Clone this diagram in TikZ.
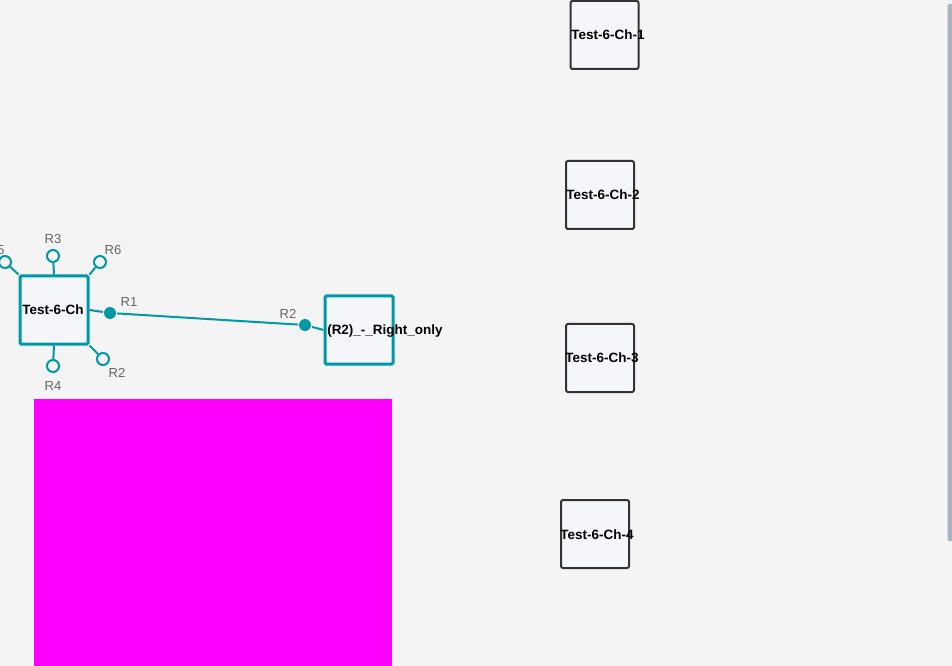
\documentclass[tikz,border=0pt]{standalone}
\usepackage{fontspec}
\setmainfont{Liberation Sans}
\usepackage{xcolor}
\usetikzlibrary{positioning}

\definecolor{bgcol}{HTML}{F4F4F4}
\definecolor{boxfill}{HTML}{F5F6F9}
\definecolor{tealcol}{HTML}{0097A7}
\definecolor{darkcol}{HTML}{333333}
\definecolor{labcol}{HTML}{666666}
\definecolor{barcol}{HTML}{A9B4BF}
\definecolor{blockcol}{HTML}{FF00FF}

\tikzset{
  chbox/.style={draw=darkcol, fill=boxfill, line width=1.5pt, rounded corners=1.5pt, minimum size=51pt, inner sep=0pt},
  selbox/.style={draw=tealcol, fill=boxfill, line width=2.25pt, rounded corners=1pt, minimum size=51pt, inner sep=0pt},
  boxtext/.style={font=\bfseries\fontsize{10.1}{12}\selectfont, inner sep=0pt},
  portopen/.style={circle, draw=tealcol, fill=bgcol, line width=1.5pt, minimum size=9pt, inner sep=0pt},
  portdot/.style={circle, draw=white, fill=tealcol, line width=0.8pt, minimum size=10pt, inner sep=0pt},
  portlab/.style={text=labcol, font=\fontsize{9.8}{11}\selectfont, inner sep=0pt},
  stub/.style={draw=tealcol, line width=1.5pt},
}

\begin{document}
\begin{tikzpicture}[x=0.75pt, y=-0.75pt]
\clip (0,0) rectangle (952,666);
\fill[bgcol] (0,0) rectangle (952,666);

% right column
\node[chbox] (c1) at (604.5,35) {};
\node[boxtext] (t1) at (608,35) {Test-6-Ch-1};
\node[chbox] (c2) at (600,195) {};
\node[boxtext] (t2) at (603,195) {Test-6-Ch-2};
\node[chbox] (c3) at (600,358) {};
\node[boxtext] (t3) at (602,358) {Test-6-Ch-3};
\node[chbox] (c4) at (595,534) {};
\node[boxtext] (t4) at (597,535) {Test-6-Ch-4};

% ports of the main box
\node[portopen] (p3) at (53,256) {};
\node[portopen] (p6) at (100,262) {};
\node[portopen] (p5) at (5,262) {};
\node[portopen] (p4) at (53,366) {};
\node[portopen] (p2) at (103,359) {};
\node[portdot] (p1) at (110,313) {};
\node[portdot] (q2) at (305,325) {};

% boxes
\node[selbox] (ch) at (54,310) {};
\node[boxtext] (cht) at (53,310) {Test-6-Ch};
\node[selbox] (ro) at (359,330) {};

\draw[stub] (ch.north) -- (p3);
\draw[stub] (ch.north east) -- (p6);
\draw[stub] (ch.north west) -- (p5);
\draw[stub] (ch.south) -- (p4);
\draw[stub] (ch.south east) -- (p2);
\draw[stub] (ch.east) -- (p1);
\draw[stub] (q2) -- (ro.west);
\draw[stub] (p1) -- (q2);
\node[portdot] at (p1) {};
\node[portdot] at (q2) {};

\node[boxtext, anchor=west] (rot) at (327,331) {(R2)\_-\_Right\_only};

% labels
\node[portlab] (l1) at (129,302) {R1};
\node[portlab] (l2) at (288,314) {R2};
\node[portlab] (l3) at (53,239) {R3};
\node[portlab] (l6) at (113,250) {R6};
\node[portlab] (l5) at (-4,250) {R5};
\node[portlab] (l4) at (53,386) {R4};
\node[portlab] (l7) at (117,373) {R2};

% magenta block
\fill[blockcol] (34,399) rectangle (392,670);

% scroll bar
\fill[barcol, rounded corners=1pt] (947.5,4) rectangle (955,541);
\end{tikzpicture}
\end{document}
